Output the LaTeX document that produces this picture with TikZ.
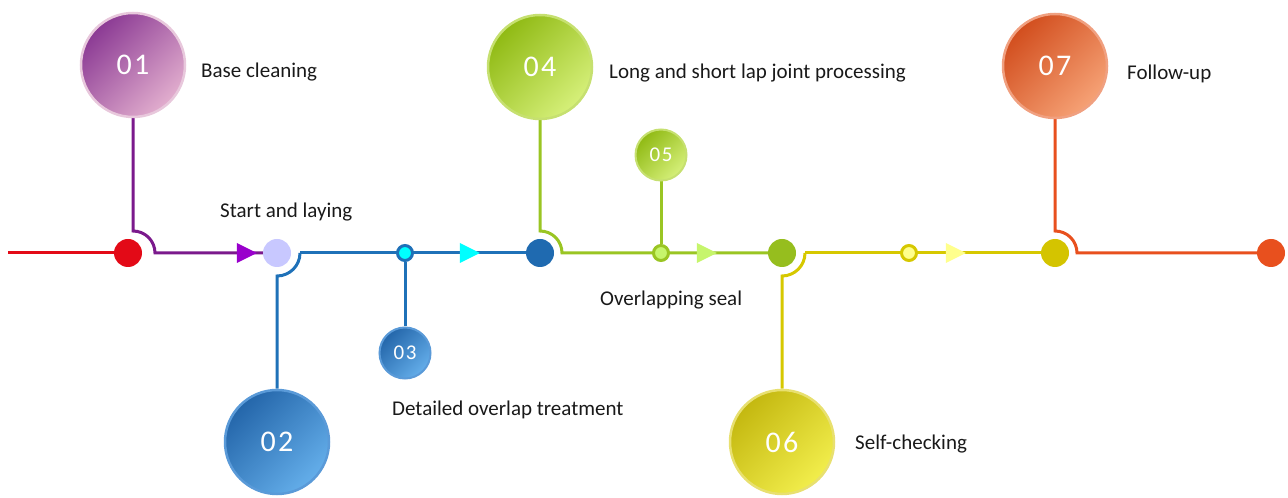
\documentclass[tikz,border=0pt]{standalone}
\usepackage{fontspec}
\setmainfont{Carlito}
\newfontfamily\numfont[LetterSpace=8]{Carlito}
\usetikzlibrary{calc,shapes.geometric,backgrounds}

\definecolor{redA}{HTML}{E30A17}
\definecolor{purA}{HTML}{7B1A8C}
\definecolor{purB}{HTML}{9900CC}
\definecolor{lavA}{HTML}{C8C8FF}
\definecolor{bluA}{HTML}{1F71B8}
\definecolor{bluB}{HTML}{1F6AB0}
\definecolor{cynA}{HTML}{00FFFF}
\definecolor{grnA}{HTML}{9AC523}
\definecolor{grnB}{HTML}{96BE1E}
\definecolor{grnC}{HTML}{C6F56C}
\definecolor{yelA}{HTML}{D6C800}
\definecolor{yelB}{HTML}{D4C400}
\definecolor{yelC}{HTML}{FFFF8C}
\definecolor{ornA}{HTML}{E8501E}
% circle shading: dark, light, rim
\definecolor{pinkD}{HTML}{8B3A94}
\definecolor{pinkL}{HTML}{E2AECE}
\definecolor{pinkR}{HTML}{E8C8DC}
\definecolor{blueD}{HTML}{2466AA}
\definecolor{blueL}{HTML}{64AEEA}
\definecolor{blueR}{HTML}{5A9AD8}
\definecolor{limeD}{HTML}{90BA14}
\definecolor{limeL}{HTML}{D6F07A}
\definecolor{limeR}{HTML}{C6E070}
\definecolor{goldD}{HTML}{C4B810}
\definecolor{goldL}{HTML}{F2EE4C}
\definecolor{goldR}{HTML}{E8E070}
\definecolor{rustD}{HTML}{D24E1E}
\definecolor{rustL}{HTML}{F6A276}
\definecolor{rustR}{HTML}{F0A080}

\tikzset{
  ball/.style={circle,inner sep=0,minimum size=104,line width=2.5,
    draw=#1R,top color=#1D,bottom color=#1L,shading angle=45,
    text=white,font=\numfont\fontsize{30}{30}\selectfont},
  smallball/.style={ball=#1,minimum size=51,line width=2,
    font=\numfont\fontsize{21}{21}\selectfont},
  stop/.style={circle,inner sep=0,minimum size=28,fill=#1},
  ring/.style 2 args={circle,inner sep=0,minimum size=15,line width=3,draw=#1,fill=#2},
  tip/.style={isosceles triangle,isosceles triangle stretches,inner sep=0,
    minimum width=20,minimum height=20,fill=#1},
  lbl/.style={anchor=west,inner sep=0,font=\fontsize{21}{24}\selectfont,text=black!90},
  wire/.style={line width=3,draw=#1}
}

\begin{document}
\begin{tikzpicture}[x=1pt,y=1pt]
\useasboundingbox (0,0) rectangle (1288,498);
\coordinate (start) at (8,245);
% stops on the line
\node[stop=redA] (d1) at (128,245) {};
\node[stop=lavA] (d2) at (277,245) {};
\node[ring={bluA}{cynA}] (d3) at (405,245) {};
\node[stop=bluB] (d4) at (540,245) {};
\node[ring={grnA}{grnC}] (d5) at (661,245) {};
\node[stop=grnB] (d6) at (782,245) {};
\node[ring={yelA}{yelC}] (d7) at (909,245) {};
\node[stop=yelB] (d8) at (1055,245) {};
\node[stop=ornA] (d9) at (1271,245) {};
% arrow heads
\node[tip=purB] (t1) at (243,245) {};
\node[tip=cynA] (t2) at (466,245) {};
\node[tip=grnC] (t3) at (703,245) {};
\node[tip=yelC] (t4) at (952,245) {};
% numbered circles
\node[ball=pink] (c1) at (133,433) {01};
\node[ball=blue] (c2) at (277,56) {02};
\node[smallball=blue] (c3) at (405,145) {03};
\node[ball=lime] (c4) at (540,431) {04};
\node[smallball=lime] (c5) at (661,343) {05};
\node[ball=gold] (c6) at (782,56) {06};
\node[ball=rust] (c7) at (1055,432) {07};
% labels
\node[lbl] (l1) at (201,426) {Base cleaning};
\node[lbl] (l2) at (220,286) {Start and laying};
\node[lbl] (l3) at (392,88) {Detailed overlap treatment};
\node[lbl] (l4) at (609,425) {Long and short lap joint processing};
\node[lbl] (l5) at (600,198) {Overlapping seal};
\node[lbl] (l6) at (855,54) {Self-checking};
\node[lbl] (l7) at (1127,424) {Follow-up};
% connectors
\begin{scope}[on background layer]
  \draw[wire=redA] (start) -- (d1);
  \draw[wire=purA] (c1) -- ($(d1)+(5,22)$) arc[start angle=90,end angle=0,radius=22] -- (d2);
  \draw[wire=bluA] ($(d2)+(23,0)$) arc[start angle=0,end angle=-90,radius=23] -- (c2);
  \draw[wire=bluA] ($(d2)+(23,0)$) -- (d4);
  \draw[wire=bluA] (d3) -- (c3);
  \draw[wire=grnA] (c4) -- ($(d4)+(0,22)$) arc[start angle=90,end angle=0,radius=22] -- (d6);
  \draw[wire=grnA] (d5) -- (c5);
  \draw[wire=yelA] ($(d6)+(23,0)$) arc[start angle=0,end angle=-90,radius=23] -- (c6);
  \draw[wire=yelA] ($(d6)+(23,0)$) -- (d8);
  \draw[wire=ornA] (c7) -- ($(d8)+(0,22)$) arc[start angle=90,end angle=0,radius=22] -- (d9);
\end{scope}
\end{tikzpicture}
\end{document}
